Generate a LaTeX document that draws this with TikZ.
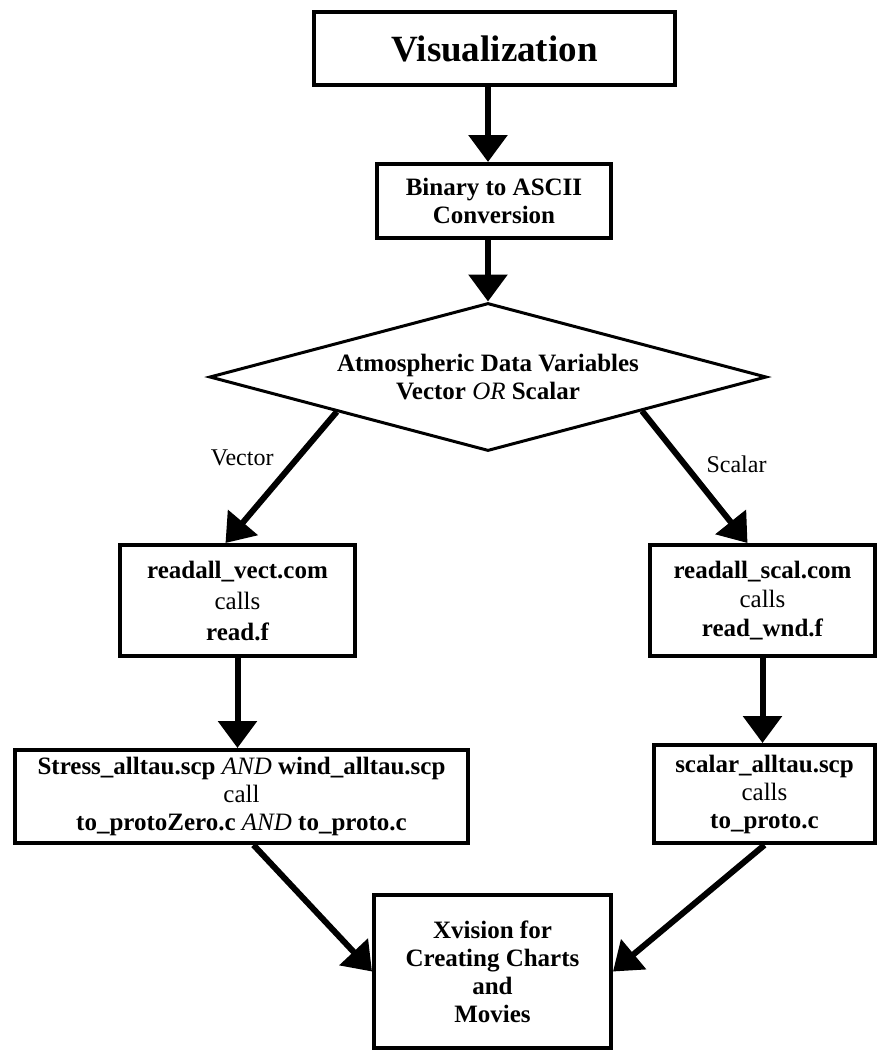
\documentclass[tikz,border=0pt]{standalone}
\usepackage{fontspec}
\setmainfont{Liberation Serif}
\usepackage{tikz}
\usetikzlibrary{arrows.meta,positioning,calc,shapes.geometric}
\tikzset{
  procbox/.style={draw=black, line width=4pt, fill=white, inner sep=3pt,
                  align=center, font=\bfseries\fontsize{25}{28}\selectfont},
  decbox/.style={diamond, aspect=3.7, draw=black, line width=3pt, fill=white, inner sep=1pt,
                 align=center, font=\bfseries\fontsize{25}{28}\selectfont},
  flowarr/.style={-{Triangle[length=27pt,width=38pt]}, draw=black, line width=6pt},
  branchlab/.style={font=\fontsize{24}{28}\selectfont, text=black},
}

\begin{document}
\begin{tikzpicture}[x=1pt,y=-1pt]
\useasboundingbox (0,0) rectangle (878,1053);
\node[procbox, line width=4.5pt, minimum width=361pt, minimum height=73pt,
  font=\bfseries\fontsize{37}{40}\selectfont] (vis) at (494.5,48.5) {Visualization};
\node[procbox, minimum width=234pt, minimum height=74pt] (bin) at (494,201)
  {Binary to ASCII\\Conversion};
\node[decbox, minimum width=557pt, minimum height=148pt] (dia) at (488,377)
  {Atmospheric Data Variables\\Vector {\mdseries\itshape OR} Scalar};
\node[procbox, minimum width=235pt, minimum height=111pt] (vect) at (237.5,600.5)
  {readall\_vect.com\\[3pt]{\mdseries calls}\\[3pt]read.f};
\node[procbox, minimum width=225pt, minimum height=111pt] (scal) at (762.5,600.5)
  {readall\_scal.com\\[1pt]{\mdseries calls}\\[1pt]read\_wnd.f};
\node[procbox, minimum width=453pt, minimum height=93pt] (stress) at (241.5,796.5)
  {Stress\_alltau.scp {\mdseries\itshape AND} wind\_alltau.scp\\{\mdseries call}\\
   to\_protoZero.c {\mdseries\itshape AND} to\_proto.c};
\node[procbox, minimum width=221pt, minimum height=98pt] (scalar) at (764.5,794)
  {scalar\_alltau.scp\\{\mdseries calls}\\to\_proto.c};
\node[procbox, minimum width=237pt, minimum height=153pt] (xvis) at (492.5,971.5)
  {Xvision for\\Creating Charts\\and\\Movies};
% connectors
\draw[flowarr] (dia.north |- vis.south) -- (dia.north |- bin.north);
\draw[flowarr] (dia.north |- bin.south) -- (dia.north);
\draw[flowarr] ($(dia.west)!0.46!(dia.south)$) -- node[branchlab, pos=0.35, left=18pt]{Vector}
  ($(vect.north)+(-12,0)$);
\draw[flowarr] ($(dia.east)!0.45!(dia.south)$) -- node[branchlab, pos=0.4, right=16pt]{Scalar}
  ($(scal.north)+(-15,0)$);
\draw[flowarr] (vect.south) -- (vect.south |- stress.north);
\draw[flowarr] (scal.south) -- (scal.south |- scalar.north);
\draw[flowarr] ($(stress.south)+(12,0)$) -- (xvis.west);
\draw[flowarr] (scalar.south) -- (xvis.east);
\end{tikzpicture}
\end{document}
